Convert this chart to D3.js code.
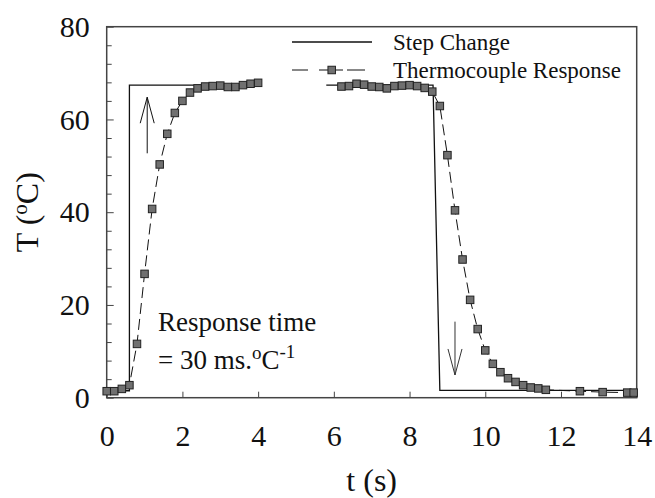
<!DOCTYPE html>
<html>
<head>
<meta charset="utf-8">
<script src="https://cdn.jsdelivr.net/npm/d3@7"></script>
<style>
  body { margin: 0; background: #fff; }
  svg text { font-family: "Liberation Serif", "Times New Roman", serif; fill: #111; }
</style>
</head>
<body>
<svg id="chart"></svg>
<script>
// thermocouple response, first rise (s, degC)
const riseTime = [0, 0.2, 0.4, 0.6, 0.8, 1.0, 1.2, 1.4, 1.6, 1.8, 2.0, 2.2, 2.4, 2.6, 2.8, 3.0, 3.2, 3.4, 3.6, 3.8, 4.0];
const riseTemp = [1.4, 1.4, 1.9, 2.7, 11.6, 26.7, 40.7, 50.3, 56.9, 61.4, 64.0, 65.8, 66.7, 67.1, 67.2, 67.3, 67.0, 67.0, 67.4, 67.7, 67.9];

// thermocouple response, plateau and fall
const fallTime = [6.2, 6.4, 6.6, 6.8, 7.0, 7.2, 7.4, 7.6, 7.8, 8.0, 8.2, 8.4, 8.6, 8.8, 9.0, 9.2, 9.4, 9.6, 9.8, 10.0,
  10.2, 10.4, 10.6, 10.8, 11.0, 11.2, 11.4, 11.6, 12.5, 13.1, 13.75, 13.92];
const fallTemp = [67.1, 67.2, 67.7, 67.5, 67.1, 67.0, 66.7, 67.2, 67.3, 67.4, 67.2, 66.8, 66.0, 62.9, 52.3, 40.4, 29.8, 21.1, 14.8, 10.2,
  7.3, 5.5, 4.2, 3.4, 2.7, 2.2, 2.0, 1.7, 1.4, 1.2, 1.1, 1.1];

// step change (two pieces)
const stepTime1 = [0, 0.6, 0.6, 4.0];
const stepTemp1 = [1.5, 1.5, 67.4, 67.4];
const stepTime2 = [5.8, 8.62, 8.8, 14];
const stepTemp2 = [67.4, 67.4, 1.6, 1.6];

const xTicks = [0, 2, 4, 6, 8, 10, 12, 14];
const yTicks = [0, 20, 40, 60, 80];

// arrows: [t, from, to]
const upArrow = [1.07, 52.7, 64.8];
const downArrow = [9.2, 16.4, 4.9];

const width = 655, height = 498;
const margin = { top: 26.7, right: 18.3, bottom: 100.3, left: 106.7 };

const svg = d3.select('#chart').attr('width', width).attr('height', height);

const x = d3.scaleLinear().domain([0, 14]).range([margin.left, width - margin.right]);
const y = d3.scaleLinear().domain([0, 80]).range([height - margin.bottom, margin.top]);

const zip = (a, b) => a.map((d, i) => [d, b[i]]);
const line = d3.line().x(d => x(d[0])).y(d => y(d[1]));

// frame
svg.append('rect')
  .attr('x', x(0)).attr('y', y(80))
  .attr('width', x(14) - x(0)).attr('height', y(0) - y(80))
  .attr('fill', 'none').attr('stroke', '#444').attr('stroke-width', 1.5);

// axes (ticks inward)
const xAxis = d3.axisBottom(x).tickValues(xTicks).tickSize(-6).tickPadding(27).tickFormat(d3.format('d'));
svg.append('g')
  .attr('transform', `translate(0,${y(0)})`)
  .call(xAxis)
  .call(g => g.select('.domain').remove())
  .call(g => g.selectAll('line').attr('stroke', '#444'))
  .call(g => g.selectAll('text').attr('font-size', 30).attr('font-family', 'Liberation Serif').attr('fill', '#111'));

const yMinor = d3.range(0, 81, 4).filter(v => v % 20 !== 0);
svg.append('g')
  .attr('transform', `translate(${x(0)},0)`)
  .call(d3.axisLeft(y).tickValues(yMinor).tickSize(-5).tickFormat(''))
  .call(g => g.select('.domain').remove())
  .call(g => g.selectAll('line').attr('stroke', '#444'));

svg.append('g')
  .attr('transform', `translate(${x(0)},0)`)
  .call(d3.axisLeft(y).tickValues(yTicks).tickSize(-7).tickPadding(17).tickFormat(d3.format('d')))
  .call(g => g.select('.domain').remove())
  .call(g => g.selectAll('line').attr('stroke', '#444'))
  .call(g => g.selectAll('text').attr('font-size', 30).attr('font-family', 'Liberation Serif').attr('fill', '#111'));

// axis titles
svg.append('text')
  .attr('x', (x(0) + x(14)) / 2).attr('y', 491)
  .attr('text-anchor', 'middle').attr('font-size', 32)
  .text('t (s)');

const yTitle = svg.append('text')
  .attr('transform', `translate(38,${(y(0) + y(80)) / 2}) rotate(-90)`)
  .attr('text-anchor', 'middle').attr('font-size', 32);
yTitle.append('tspan').text('T (');
yTitle.append('tspan').attr('font-size', 21).attr('dy', -11).text('o');
yTitle.append('tspan').attr('dy', 11).text('C)');

// step change
[zip(stepTime1, stepTemp1), zip(stepTime2, stepTemp2)].forEach(pts => {
  svg.append('path')
    .attr('d', line(pts))
    .attr('fill', 'none').attr('stroke', '#111').attr('stroke-width', 1.3);
});

// response
const responses = [zip(riseTime, riseTemp), zip(fallTime, fallTemp)];
responses.forEach(pts => {
  svg.append('path')
    .attr('d', line(pts))
    .attr('fill', 'none').attr('stroke', '#111').attr('stroke-width', 1)
    .attr('stroke-dasharray', '11,5');
});

const ms = 7.5;
svg.append('g')
  .selectAll('rect')
  .data(responses.flat())
  .join('rect')
  .attr('x', d => x(d[0]) - ms / 2)
  .attr('y', d => y(d[1]) - ms / 2)
  .attr('width', ms).attr('height', ms)
  .attr('fill', '#707070').attr('stroke', '#222').attr('stroke-width', 1);

// arrows
function arrow(a, color) {
  const [t, v0, v1] = a;
  const dir = v1 > v0 ? 1 : -1;
  const g = svg.append('g').attr('stroke', color).attr('stroke-width', 1).attr('fill', 'none');
  g.append('line').attr('x1', x(t)).attr('x2', x(t)).attr('y1', y(v0)).attr('y2', y(v1));
  g.append('path').attr('d', d3.line()([
    [x(t) - 7, y(v1) + dir * 26], [x(t), y(v1)], [x(t) + 7, y(v1) + dir * 26]
  ]));
}
arrow(upArrow, '#111');
arrow(downArrow, '#333');

// annotation
svg.append('text').attr('x', 158).attr('y', 331).attr('font-size', 27).text('Response time');
const ann = svg.append('text').attr('x', 158).attr('y', 369).attr('font-size', 27);
ann.append('tspan').text('= 30 ms.');
ann.append('tspan').attr('font-size', 19).attr('dy', -10).text('o');
ann.append('tspan').attr('dy', 10).text('C');
ann.append('tspan').attr('font-size', 19).attr('dy', -11).text('-1');

// legend
const legend = svg.append('g');
legend.append('line')
  .attr('x1', 292).attr('x2', 372).attr('y1', 42).attr('y2', 42)
  .attr('stroke', '#111').attr('stroke-width', 1.3);
legend.append('text').attr('x', 393).attr('y', 50).attr('font-size', 23).text('Step Change');
const dashes = [[292, 308], [319, 328], [335, 343], [347, 365]];
legend.selectAll('.dash')
  .data(dashes)
  .join('line')
  .attr('x1', d => d[0]).attr('x2', d => d[1]).attr('y1', 70).attr('y2', 70)
  .attr('stroke', '#111').attr('stroke-width', 1);
legend.append('rect')
  .attr('x', 331.7 - ms / 2).attr('y', 70 - ms / 2).attr('width', ms).attr('height', ms)
  .attr('fill', '#707070').attr('stroke', '#222');
legend.append('text').attr('x', 393).attr('y', 78).attr('font-size', 23).text('Thermocouple Response');
</script>
</body>
</html>
